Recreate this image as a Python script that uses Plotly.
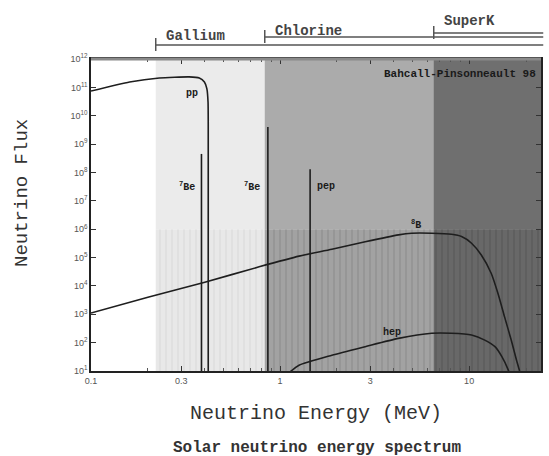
import numpy as np
import plotly.graph_objects as go

# Axis limits: energy in MeV, flux in cm^-2 s^-1 MeV^-1 (lines: cm^-2 s^-1)
E_MIN, E_MAX = 0.1, 24.0
F_MIN, F_MAX = 1e1, 1e12
HATCH_TOP = 1e6

# Detector thresholds (MeV)
detectors = ["Gallium", "Chlorine", "SuperK"]
thresholds = [0.22, 0.83, 6.5]

# pp continuum
pp_energy = [0.1, 0.16, 0.23, 0.33, 0.374, 0.398, 0.410, 0.416, 0.417, 0.417]
pp_flux = [7.4e10, 1.55e11, 2.14e11, 2.34e11, 2.14e11, 1.55e11, 9.0e10, 3.0e10, 5.0e9, 1.0e1]

# Mono-energetic lines
line_names = ["<sup>7</sup>Be", "<sup>7</sup>Be", "pep"]
line_energy = [0.384, 0.862, 1.442]
line_flux = [4.5e8, 4.0e9, 1.3e8]

# 8B continuum
b8_energy = [0.1, 0.2, 0.4, 0.775, 1.26, 1.88, 2.82, 4.23, 4.97, 6.34, 8.07,
             9.12, 10.3, 11.6, 13.1, 14.2, 15.4, 16.7, 17.8, 18.5]
b8_flux = [1.1e3, 4.0e3, 1.35e4, 4.7e4, 1.12e5, 1.95e5, 3.6e5, 6.3e5, 7.2e5,
           7.2e5, 6.6e5, 5.5e5, 3.2e5, 1.23e5, 2.75e4, 5.5e3, 8.1e2, 1.23e2,
           24.5, 1.0e1]

# hep continuum
hep_energy = [1.1, 1.26, 1.88, 2.82, 4.23, 6.34, 8.07, 10.3, 12.1, 13.7, 14.9, 16.1, 16.6]
hep_flux = [8.0, 16.0, 36.0, 72.0, 141.0, 214.0, 214.0, 186.0, 123.0, 72.0, 32.0, 11.0, 6.0]

# Region shading: (plain colour above HATCH_TOP, background below, hatch colour)
region_style = [("#ebebeb", "#e8e8e8", "#d2d2d2"),
                ("#ababab", "#a2a2a2", "#838383"),
                ("#6f6f6f", "#686868", "#4e4e4e")]

LX0, LX1 = np.log10(E_MIN), np.log10(E_MAX)


def xpaper(e):
    return (np.log10(e) - LX0) / (LX1 - LX0)


fig = go.Figure()

for thr, (top_col, low_col, hatch_col) in zip(thresholds, region_style):
    # upper plain band
    fig.add_trace(go.Scatter(
        x=[thr, E_MAX, E_MAX, thr, thr], y=[HATCH_TOP, HATCH_TOP, F_MAX, F_MAX, HATCH_TOP],
        fill="toself", fillcolor=top_col, mode="lines", line=dict(width=0),
        hoverinfo="skip"))
    # lower hatched band
    fig.add_trace(go.Scatter(
        x=[thr, E_MAX, E_MAX, thr, thr], y=[F_MIN, F_MIN, HATCH_TOP, HATCH_TOP, F_MIN],
        fill="toself", fillcolor=low_col, mode="lines", line=dict(width=0),
        fillpattern=dict(shape="|", fgcolor=hatch_col, bgcolor=low_col,
                         size=6, solidity=0.25),
        hoverinfo="skip"))

curve_style = dict(color="#1e1e1e", width=1.6)

fig.add_trace(go.Scatter(x=pp_energy, y=pp_flux, mode="lines",
                         line=dict(shape="spline", smoothing=0.5, **curve_style)))
for e, f in zip(line_energy, line_flux):
    fig.add_trace(go.Scatter(x=[e, e], y=[F_MIN, f], mode="lines", line=curve_style))
fig.add_trace(go.Scatter(x=b8_energy, y=b8_flux, mode="lines",
                         line=dict(shape="spline", smoothing=0.6, **curve_style)))
fig.add_trace(go.Scatter(x=hep_energy, y=hep_flux, mode="lines",
                         line=dict(shape="spline", smoothing=0.6, **curve_style)))

label_font = dict(family="Liberation Mono", size=10, color="#1a1a1a")

# Spectrum labels (annotations on log axes take log10 coordinates)
spec_labels = [("pp", 0.344, 6.3e10)] + \
    [(n, e, 3.1e7) for n, e in zip(line_names, [0.32, 0.713, 1.75])] + \
    [("<sup>8</sup>B", 5.26, 1.5e6), ("hep", 3.9, 2.2e2)]
for text, e, f in spec_labels:
    fig.add_annotation(x=np.log10(e), y=np.log10(f), text="<b>%s</b>" % text,
                       showarrow=False, font=label_font)

fig.add_annotation(x=0.821, y=0.952, xref="paper", yref="paper", xanchor="center",
                   yanchor="middle", text="<b>Bahcall-Pinsonneault 98</b>", showarrow=False,
                   font=dict(family="Liberation Mono", size=11, color="#1a1a1a"))

# Detector threshold brackets above the plot
PLOT_H = 312.0
bracket_y = [45, 37, 33]
text_y = [36, 31, 21]
for name, thr, by, ty in zip(detectors, thresholds, bracket_y, text_y):
    x0 = xpaper(thr)
    yp = (371 - by) / PLOT_H
    fig.add_shape(type="line", xref="paper", yref="paper", x0=x0, x1=1.005, y0=yp, y1=yp,
                  line=dict(color="#555", width=1.5))
    fig.add_shape(type="line", xref="paper", yref="paper", x0=x0, x1=x0,
                  y0=yp - 6 / PLOT_H, y1=yp + 7 / PLOT_H, line=dict(color="#555", width=1.5))
    fig.add_annotation(x=x0, y=(371 - ty) / PLOT_H, xref="paper", yref="paper",
                       xanchor="left", yanchor="middle", xshift=8, text="<b>%s</b>" % name,
                       showarrow=False,
                       font=dict(family="Liberation Mono", size=14, color="#444"))

# Heavy grey top frame
fig.add_shape(type="line", xref="paper", yref="paper", x0=0, x1=1, y0=1, y1=1,
              line=dict(color="#8a8a8a", width=3))

fig.add_annotation(x=0.5, y=-0.135, xref="paper", yref="paper", xanchor="center",
                   yanchor="middle", text="Neutrino Energy (MeV)", showarrow=False,
                   font=dict(family="Liberation Mono", size=20, color="#333"))
fig.add_annotation(x=-0.153, y=0.571, xref="paper", yref="paper", xanchor="center",
                   yanchor="middle", text="Neutrino Flux", showarrow=False, textangle=-90,
                   font=dict(family="Liberation Mono", size=19, color="#333"))
fig.add_annotation(x=0.503, y=-0.247, xref="paper", yref="paper", xanchor="center",
                   yanchor="middle", text="<b>Solar neutrino energy spectrum</b>",
                   showarrow=False,
                   font=dict(family="Liberation Mono", size=16, color="#333"))

tick_font = dict(family="Liberation Sans", size=9, color="#555")
x_ticks = [0.1, 0.3, 1, 3, 10]
x_minor = [0.2, 0.4, 0.5, 0.6, 0.7, 0.8, 0.9, 2, 4, 5, 6, 7, 8, 9, 20]
fig.update_xaxes(type="log", range=[LX0, LX1], tickvals=x_ticks,
                 ticktext=[str(v) for v in x_ticks], ticks="inside", ticklen=5,
                 tickcolor="#333", showline=True, linecolor="#222", linewidth=1.5,
                 mirror="allticks", showgrid=False, zeroline=False, tickfont=tick_font,
                 minor=dict(ticks="inside", ticklen=3, tickcolor="#555", tickvals=x_minor,
                            showgrid=False))
y_exps = list(range(1, 13))
fig.update_yaxes(type="log", range=[1, 12], tickvals=[10.0 ** k for k in y_exps],
                 ticktext=["10<sup>%d</sup>" % k for k in y_exps], ticks="inside", ticklen=5,
                 tickcolor="#333", showline=True, linecolor="#222", linewidth=1.5,
                 mirror="allticks", showgrid=False, zeroline=False, tickfont=tick_font)

fig.update_layout(width=549, height=456, margin=dict(l=91, r=6, t=59, b=85),
                  plot_bgcolor="white", paper_bgcolor="white", showlegend=False)

fig.write_html("out.html")
